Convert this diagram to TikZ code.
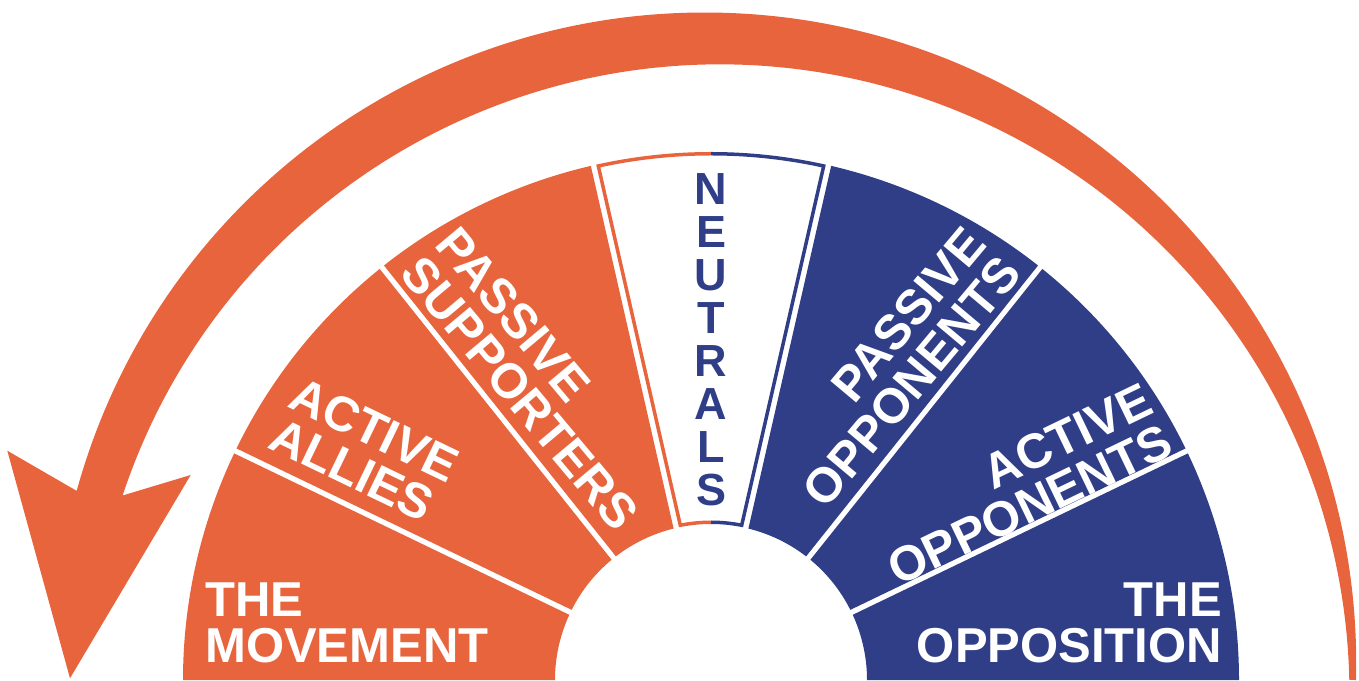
\documentclass[tikz,border=0pt]{standalone}
\usepackage{fontspec}
\setmainfont{Liberation Sans}
\definecolor{mvorange}{HTML}{E8643D}
\definecolor{mvblue}{HTML}{2F3E86}
\begin{document}
\begin{tikzpicture}[x=1pt,y=1pt,
  segtext/.style={text=white, font=\bfseries\fontsize{49}{46}\selectfont, inner sep=0pt},
  neutext/.style={text=mvblue, font=\bfseries\fontsize{45}{43}\selectfont, inner sep=0pt, align=center},
  outline/.style={line width=3.5pt, line join=miter}]
\useasboundingbox (0,0) rectangle (1359,680);
% big curved arrow
\fill[mvorange] (1356,0) arc[start angle=-1.41, end angle=164.59, radius=651.5pt]
  -- (7.3,229.3) -- (70,1.7) -- (190.7,205) -- (122.6,184.5)
  arc[start angle=161.62, end angle=1.275, radius=629.5pt] -- cycle;
% segments
\begin{scope}[shift={(711,0)}]
\foreach \k/\col in {0/mvorange,1/mvorange,2/mvorange,4/mvblue,5/mvblue,6/mvblue}{
  \pgfmathsetmacro\aho{180-\k*180/7-(\k>0)*0.298}
  \pgfmathsetmacro\ahi{180-\k*180/7-(\k>0)*1.01}
  \pgfmathsetmacro\alo{180-(\k+1)*180/7+(\k<6)*0.298}
  \pgfmathsetmacro\ali{180-(\k+1)*180/7+(\k<6)*1.01}
  \fill[\col] (\aho:528pt) arc[start angle=\aho, end angle=\alo, radius=528pt]
    -- (\ali:156pt) arc[start angle=\ali, end angle=\ahi, radius=156pt] -- cycle;
}
\draw[mvorange, outline] (90:526.25pt) arc[start angle=90, end angle=102.367, radius=526.25pt]
  -- (101.222:157.75pt) arc[start angle=101.222, end angle=90, radius=157.75pt];
\draw[mvblue, outline] (90:526.25pt) arc[start angle=90, end angle=77.633, radius=526.25pt]
  -- (78.778:157.75pt) arc[start angle=78.778, end angle=90, radius=157.75pt];
\end{scope}
% labels
\node[segtext, anchor=south west, align=left] (movement) at (205,17) {THE\\MOVEMENT};
\node[segtext, anchor=south east, align=right] (opposition) at (1222,17) {THE\\OPPOSITION};
\node[segtext, anchor=north west, align=left, rotate=-25.7] (allies) at (301,305) {ACTIVE\\ALLIES};
\node[segtext, anchor=north west, align=left, rotate=-50] (supporters) at (460,457) {PASSIVE\\SUPPORTERS};
\node[segtext, anchor=north east, align=right, rotate=50] (popponents) at (962,457) {PASSIVE\\OPPONENTS};
\node[segtext, anchor=north east, align=right, rotate=25.7] (aopponents) at (1141,299) {ACTIVE\\OPPONENTS};
\node[neutext, anchor=north] (neutrals) at (711,507) {N\\E\\U\\T\\R\\A\\L\\S};
\end{tikzpicture}
\end{document}
